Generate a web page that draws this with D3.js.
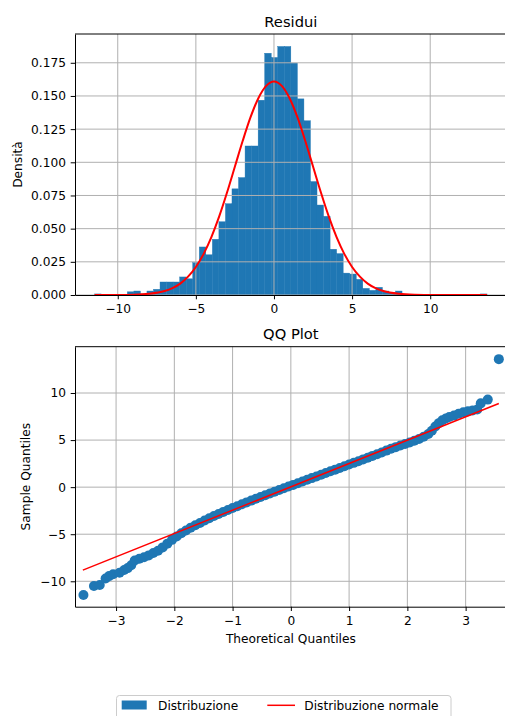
<!DOCTYPE html>
<html>
<head>
<meta charset="utf-8">
<script src="https://cdnjs.cloudflare.com/ajax/libs/d3/7.8.5/d3.min.js"></script>
<style>
body { margin: 0; background: #fff; }
svg text { font-family: "DejaVu Sans", sans-serif; fill: #000; }
</style>
</head>
<body>
<div id="chart"></div>
<script>
// histogram of the residuals (density, 60 bins between min and max)
var histMin = -11.48, histMax = 13.64;
var histDensity = [0.0008, 0, 0, 0, 0, 0.0024, 0.0030, 0.0008, 0.0030, 0.0043,
	0.0098, 0.0098, 0.0098, 0.0136, 0.0122, 0.0245, 0.0362, 0.0303, 0.0420, 0.0552,
	0.0688, 0.0800, 0.0885, 0.1123, 0.1123, 0.1468, 0.1822, 0.1790, 0.1873, 0.1873,
	0.1748, 0.1478, 0.1313, 0.0855, 0.0678, 0.0593, 0.0345, 0.0312, 0.0165, 0.0158,
	0.0118, 0.0050, 0.0035, 0.0058, 0.0030, 0.0018, 0.0030, 0, 0, 0,
	0, 0, 0, 0, 0, 0, 0, 0, 0, 0.0008];

// normal curve
var curveX = [-11.48, -10, -9, -8, -7, -6.5, -6, -5.5, -5, -4.5, -4, -3.5, -3, -2.5, -2, -1.5, -1, -0.5, 0,
	0.5, 1, 1.5, 2, 2.5, 3, 3.5, 4, 4.5, 5, 5.5, 6, 6.5, 7, 8, 9, 10, 11, 12, 13.64];
var curveY = [0, 0.00005, 0.00022, 0.0009, 0.0030, 0.0052, 0.0086, 0.0138, 0.0211, 0.0310, 0.0438, 0.0594,
	0.0774, 0.0968, 0.1162, 0.1340, 0.1483, 0.1576, 0.1609, 0.1576, 0.1483, 0.1340, 0.1162, 0.0968,
	0.0774, 0.0594, 0.0438, 0.0310, 0.0211, 0.0138, 0.0086, 0.0052, 0.0030, 0.0009, 0.00022, 0.00005, 0, 0, 0];

// QQ plot points
var qqTheo = [-3.56, -3.38, -3.28, -3.18, -3.12, -3.05, -2.94, -2.86, -2.80, -2.74,
	-2.68, -2.60, -2.52, -2.44, -2.36, -2.28, -2.20, -2.12, -2.04, -1.96,
	-1.88, -1.80, -1.72, -1.64, -1.56, -1.48, -1.40, -1.32, -1.24, -1.16,
	-1.08, -1.00, -0.92, -0.84, -0.76, -0.68, -0.60, -0.52, -0.44, -0.36,
	-0.28, -0.20, -0.12, -0.04, 0.04, 0.12, 0.20, 0.28, 0.36, 0.44,
	0.52, 0.60, 0.68, 0.76, 0.84, 0.92, 1.00, 1.08, 1.16, 1.24,
	1.32, 1.40, 1.48, 1.56, 1.64, 1.72, 1.80, 1.88, 1.96, 2.04,
	2.12, 2.20, 2.28, 2.36, 2.42, 2.48, 2.54, 2.60, 2.66, 2.72,
	2.80, 2.88, 2.96, 3.04, 3.12, 3.20, 3.26, 3.38, 3.57];
var qqSample = [-11.45, -10.5, -10.4, -9.7, -9.45, -9.25, -9.1, -8.8, -8.6, -8.3,
	-7.8, -7.6, -7.45, -7.25, -7.0, -6.75, -6.4, -6.0, -5.6, -5.25,
	-4.9, -4.6, -4.3, -4.05, -3.8, -3.55, -3.3, -3.07, -2.85, -2.63,
	-2.42, -2.22, -2.02, -1.82, -1.62, -1.43, -1.24, -1.05, -0.86, -0.67,
	-0.48, -0.3, -0.12, 0.06, 0.24, 0.42, 0.6, 0.78, 0.96, 1.14,
	1.32, 1.5, 1.68, 1.86, 2.04, 2.22, 2.4, 2.58, 2.76, 2.95,
	3.13, 3.32, 3.5, 3.69, 3.88, 4.07, 4.25, 4.42, 4.58, 4.75,
	4.93, 5.12, 5.35, 5.65, 6.0, 6.45, 6.8, 7.1, 7.3, 7.45,
	7.6, 7.8, 7.95, 8.05, 8.15, 8.25, 8.9, 9.3, 13.6];
var qqLineX = [-3.57, 3.57];
var qqLineY = [-8.82, 8.89];

var histXTicks = [-10, -5, 0, 5, 10];
var histYTicks = [0, 0.025, 0.05, 0.075, 0.1, 0.125, 0.15, 0.175];
var qqXTicks = [-3, -2, -1, 0, 1, 2, 3];
var qqYTicks = [-10, -5, 0, 5, 10];
var legendLabels = ["Distribuzione", "Distribuzione normale"];

var blue = "#1f77b4", red = "#ff0000";
var left = 75, right = 506.7;

var svg = d3.select("#chart").append("svg")
	.attr("width", 505)
	.attr("height", 716);

var hx = d3.scaleLinear().domain([-12.736, 14.896]).range([left, right]);
var hy = d3.scaleLinear().domain([0, 0.1967]).range([295, 34]);
var qx = d3.scaleLinear().domain([-3.705, 3.705]).range([left, right]);
var qy = d3.scaleLinear().domain([-12.7, 14.92]).range([606.7, 346.7]);

function grid(g, x, y, xTicks, yTicks) {
	var gr = g.append("g");
	gr.selectAll("line.vx").data(xTicks).enter().append("line")
		.attr("x1", function(d) {return x(d);})
		.attr("x2", function(d) {return x(d);})
		.attr("y1", y.range()[0]).attr("y2", y.range()[1])
		.style("stroke", "#b0b0b0").style("stroke-width", 1);
	gr.selectAll("line.hy").data(yTicks).enter().append("line")
		.attr("y1", function(d) {return y(d);})
		.attr("y2", function(d) {return y(d);})
		.attr("x1", x.range()[0]).attr("x2", x.range()[1])
		.style("stroke", "#b0b0b0").style("stroke-width", 1);
}

function axes(g, x, y, xTicks, yTicks, yFormat) {
	var xa = g.append("g")
		.attr("transform", "translate(0," + y.range()[0] + ")")
		.call(d3.axisBottom(x).tickValues(xTicks).tickSize(4.3).tickPadding(5.3).tickSizeOuter(0));
	var ya = g.append("g")
		.attr("transform", "translate(" + x.range()[0] + ",0)")
		.call(d3.axisLeft(y).tickValues(yTicks).tickFormat(yFormat).tickSize(4.3).tickPadding(4.8).tickSizeOuter(0));
	[xa, ya].forEach(function(a) {
		a.attr("font-size", 12.2).attr("font-family", null);
		a.selectAll("text").style("fill", "#000");
		a.selectAll("line, path").style("stroke", "#000").style("stroke-width", 1);
	});
	// top spine
	g.append("line")
		.attr("x1", x.range()[0]).attr("x2", x.range()[1])
		.attr("y1", y.range()[1]).attr("y2", y.range()[1])
		.style("stroke", "#000").style("stroke-width", 1);
}

// ---- histogram
var hist = svg.append("g");
var binW = (histMax - histMin) / histDensity.length;

hist.selectAll("rect.bar")
	.data(histDensity.map(function(d, i) {return {x0: histMin + i*binW, x1: histMin + (i+1)*binW, v: d};})
		.filter(function(d) {return d.v > 0;}))
	.enter().append("rect")
	.attr("class", "bar")
	.attr("x", function(d) {return hx(d.x0);})
	.attr("width", function(d) {return hx(d.x1) - hx(d.x0);})
	.attr("y", function(d) {return hy(d.v);})
	.attr("height", function(d) {return hy(0) - hy(d.v);})
	.style("fill", blue)
	.style("stroke", blue)
	.style("stroke-width", 0.4);

grid(hist, hx, hy, histXTicks, histYTicks);

hist.append("path")
	.datum(curveX.map(function(d, i) {return [d, curveY[i]];}))
	.attr("d", d3.line()
		.x(function(d) {return hx(d[0]);})
		.y(function(d) {return hy(d[1]);})
		.curve(d3.curveMonotoneX))
	.style("fill", "none")
	.style("stroke", red)
	.style("stroke-width", 2);

axes(hist, hx, hy, histXTicks, histYTicks, d3.format(".3f"));

hist.append("text")
	.attr("x", (left + right) / 2).attr("y", 27)
	.attr("text-anchor", "middle")
	.style("font-size", "14.7px")
	.text("Residui");

hist.append("text")
	.attr("transform", "translate(21.5," + (34 + 295) / 2 + ") rotate(-90)")
	.attr("text-anchor", "middle")
	.style("font-size", "12.2px")
	.text("Densità");

// ---- QQ plot
var qq = svg.append("g");

grid(qq, qx, qy, qqXTicks, qqYTicks);

qq.selectAll("circle.pt")
	.data(qqTheo.map(function(d, i) {return [d, qqSample[i]];}))
	.enter().append("circle")
	.attr("class", "pt")
	.attr("cx", function(d) {return qx(d[0]);})
	.attr("cy", function(d) {return qy(d[1]);})
	.attr("r", 5)
	.style("fill", blue);

qq.append("path")
	.datum(qqLineX.map(function(d, i) {return [d, qqLineY[i]];}))
	.attr("d", d3.line()
		.x(function(d) {return qx(d[0]);})
		.y(function(d) {return qy(d[1]);}))
	.style("fill", "none")
	.style("stroke", red)
	.style("stroke-width", 1.5);

axes(qq, qx, qy, qqXTicks, qqYTicks, d3.format("d"));

qq.append("text")
	.attr("x", (left + right) / 2).attr("y", 339)
	.attr("text-anchor", "middle")
	.style("font-size", "14.7px")
	.text("QQ Plot");

qq.append("text")
	.attr("x", (left + right) / 2).attr("y", 642.5)
	.attr("text-anchor", "middle")
	.style("font-size", "12.2px")
	.text("Theoretical Quantiles");

qq.append("text")
	.attr("transform", "translate(30," + (346.7 + 606.7) / 2 + ") rotate(-90)")
	.attr("text-anchor", "middle")
	.style("font-size", "12.2px")
	.text("Sample Quantiles");

// ---- legend
var lg = svg.append("g");
lg.append("rect")
	.attr("x", 116.5).attr("y", 695.5)
	.attr("width", 334.5).attr("height", 30)
	.attr("rx", 3)
	.style("fill", "#fff")
	.style("stroke", "#cccccc")
	.style("stroke-width", 1);

lg.append("rect")
	.attr("x", 121.7).attr("y", 700.5)
	.attr("width", 25).attr("height", 9)
	.style("fill", blue);

lg.append("line")
	.attr("x1", 267.3).attr("x2", 295)
	.attr("y1", 705.3).attr("y2", 705.3)
	.style("stroke", red)
	.style("stroke-width", 1.5);

lg.selectAll("text.lab").data(legendLabels).enter().append("text")
	.attr("class", "lab")
	.attr("x", function(d, i) {return i == 0 ? 158 : 304.3;})
	.attr("y", 710)
	.style("font-size", "12.2px")
	.text(function(d) {return d;});
</script>
</body>
</html>
